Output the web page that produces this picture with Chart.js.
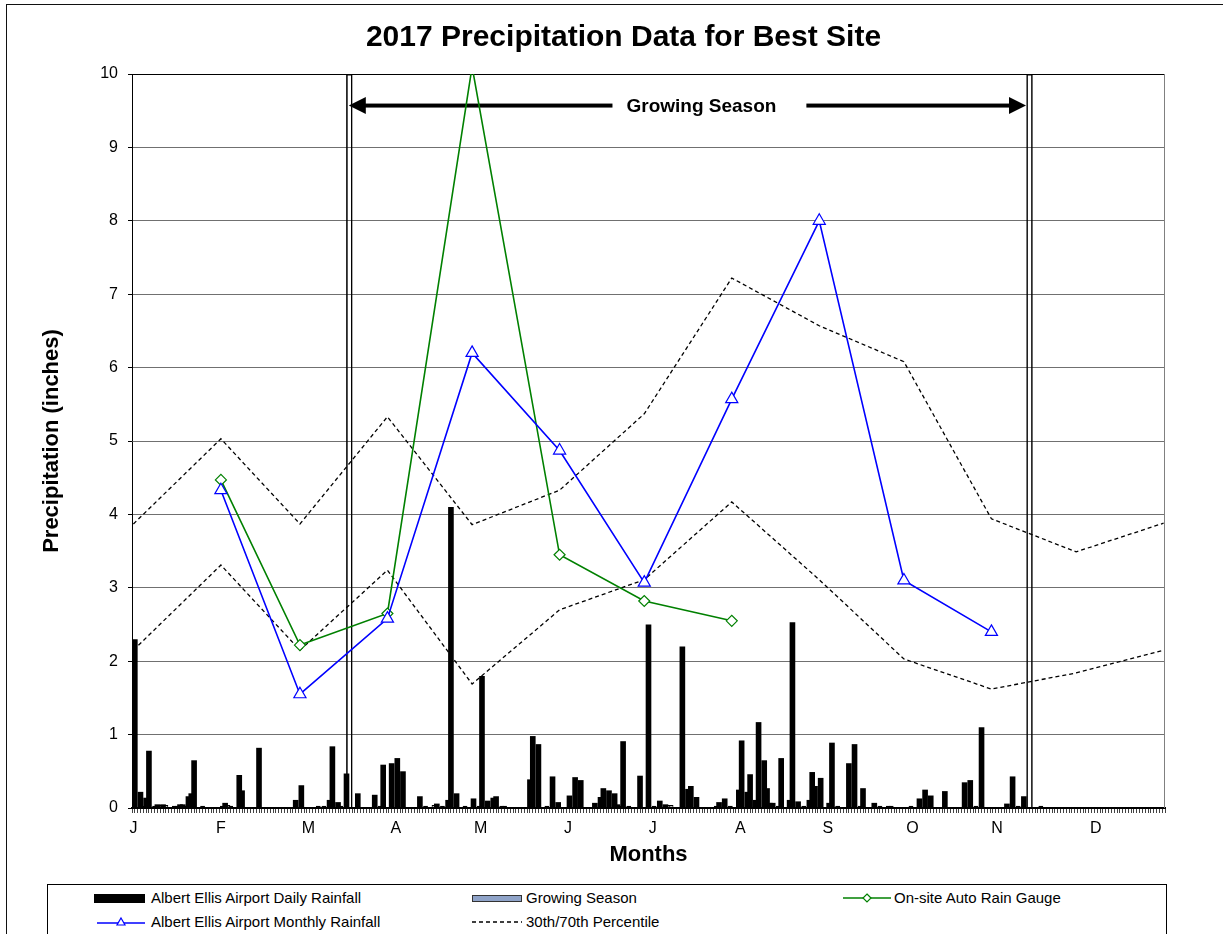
<!DOCTYPE html>
<html>
<head>
<meta charset="utf-8">
<title>2017 Precipitation Data for Best Site</title>
<script src="https://cdn.jsdelivr.net/npm/chart.js@4.4.1/dist/chart.umd.min.js"></script>
<style>
  html, body { margin: 0; padding: 0; background: #fff; overflow: hidden; }
  #wrap { position: relative; width: 1223px; height: 934px; overflow: hidden; }
  #frame { position: absolute; left: 6px; top: 4px; width: 1400px; height: 1100px; border: 1px solid #111; }
  #chart { position: absolute; left: 0; top: 0; }
  #legend {
    position: absolute; left: 47px; top: 884px; width: 1118px; height: 80px;
    border: 1px solid #000; background: #fff;
    font: 15px "Liberation Sans", Arial, sans-serif; color: #000;
  }
  .item { position: absolute; height: 16px; line-height: 16px; white-space: nowrap; }
  .item svg, .item .sw { position: absolute; top: 0; }
  .item span { position: absolute; top: 0; }
</style>
</head>
<body>
<div id="wrap">
  <div id="frame"></div>
  <canvas id="chart" width="1223" height="934"></canvas>
  <div id="legend">
    <div class="item" style="left:46px; top:5px;">
      <div class="sw" style="left:0; top:4px; width:51px; height:9px; background:#000;"></div>
      <span style="left:57px;">Albert Ellis Airport Daily Rainfall</span>
    </div>
    <div class="item" style="left:424px; top:5px;">
      <div class="sw" style="left:0; top:5px; width:48px; height:5px; background:#8fa3c8; border:1px solid #333;"></div>
      <span style="left:54px;">Growing Season</span>
    </div>
    <div class="item" style="left:795px; top:5px;">
      <svg width="48" height="16" style="left:0;">
        <line x1="0" y1="8" x2="48" y2="8" stroke="#008000" stroke-width="1.5"/>
        <polygon points="24,4 28,8 24,12 20,8" fill="#fff" stroke="#008000" stroke-width="1.2"/>
      </svg>
      <span style="left:51px;">On-site Auto Rain Gauge</span>
    </div>
    <div class="item" style="left:49px; top:29px;">
      <svg width="48" height="16" style="left:0;">
        <line x1="0" y1="9" x2="48" y2="9" stroke="#0000ff" stroke-width="1.5"/>
        <polygon points="24,4 28,11 20,11" fill="#fff" stroke="#0000ff" stroke-width="1.2"/>
      </svg>
      <span style="left:54px;">Albert Ellis Airport Monthly Rainfall</span>
    </div>
    <div class="item" style="left:424px; top:29px;">
      <svg width="50" height="16" style="left:0;">
        <line x1="0" y1="8" x2="50" y2="8" stroke="#000" stroke-width="1.3" stroke-dasharray="4,3"/>
      </svg>
      <span style="left:54px;">30th/70th Percentile</span>
    </div>
  </div>
</div>
<script>
// Daily rainfall at the airport: [day of year (0 = Jan 1), inches]; days not listed had no rain
const dailyRain = [
  [0, 2.30], [2, 0.22], [3, 0.03], [4, 0.14], [5, 0.78], [7, 0.03], [8, 0.05], [9, 0.04], [10, 0.05],
  [11, 0.04], [14, 0.03], [15, 0.03], [16, 0.05], [17, 0.05], [18, 0.03], [19, 0.16], [20, 0.20],
  [21, 0.65], [24, 0.03],
  [31, 0.03], [32, 0.07], [33, 0.04], [34, 0.03], [37, 0.45], [38, 0.24], [44, 0.82], [57, 0.11],
  [59, 0.31], [65, 0.03], [67, 0.03], [69, 0.11], [70, 0.84], [72, 0.08], [73, 0.03], [75, 0.47],
  [79, 0.20], [85, 0.18], [87, 0.03], [88, 0.59],
  [91, 0.61], [93, 0.68], [95, 0.50], [101, 0.16], [103, 0.03], [106, 0.04], [107, 0.06], [109, 0.03],
  [111, 0.11], [112, 4.10], [114, 0.20], [117, 0.03],
  [120, 0.13], [122, 0.03], [123, 1.80], [125, 0.10], [127, 0.14], [128, 0.16], [130, 0.03], [131, 0.03],
  [140, 0.39], [141, 0.98], [143, 0.87], [146, 0.03], [148, 0.43], [150, 0.08],
  [154, 0.17], [156, 0.42], [158, 0.38], [163, 0.07], [165, 0.15], [166, 0.27], [168, 0.24], [170, 0.20],
  [171, 0.05], [172, 0.03], [173, 0.91], [175, 0.03], [179, 0.44],
  [182, 2.50], [184, 0.03], [186, 0.10], [188, 0.05], [189, 0.04], [190, 0.04], [194, 2.20], [196, 0.26],
  [197, 0.30], [199, 0.15], [206, 0.03], [207, 0.08], [209, 0.13], [211, 0.03],
  [214, 0.25], [215, 0.92], [217, 0.22], [218, 0.46], [220, 0.11], [221, 1.17], [223, 0.65], [224, 0.27],
  [225, 0.07], [226, 0.07], [228, 0.03], [229, 0.68], [232, 0.11], [233, 2.53], [235, 0.09], [237, 0.03],
  [239, 0.11], [240, 0.49], [241, 0.30],
  [243, 0.41], [246, 0.07], [247, 0.89], [249, 0.03], [253, 0.61], [255, 0.87], [257, 0.03], [258, 0.27],
  [262, 0.07], [264, 0.03], [267, 0.03], [268, 0.03],
  [275, 0.03], [278, 0.13], [280, 0.25], [282, 0.17], [287, 0.23], [294, 0.35], [296, 0.38], [298, 0.03],
  [300, 1.10],
  [309, 0.06], [311, 0.43], [313, 0.03], [315, 0.16], [321, 0.03]
];

// first day of each month (plus year end), used by the monthly series
const monthStartDays = [0, 31, 59, 90, 120, 151, 181, 212, 243, 273, 304, 334, 365];
const percentile70 = [3.87, 5.03, 3.87, 5.33, 3.86, 4.33, 5.37, 7.22, 6.57, 6.08, 3.94, 3.49, 3.88];
const percentile30 = [2.15, 3.31, 2.15, 3.24, 1.69, 2.70, 3.11, 4.17, 3.11, 2.03, 1.62, 1.84, 2.15];

const monthlyRainDays = [31, 59, 90, 120, 151, 181, 212, 243, 273, 304];
const monthlyRain = [4.33, 1.55, 2.58, 6.20, 4.87, 3.07, 5.57, 8.00, 3.10, 2.40];

const gaugeDays = [31, 59, 90, 120, 151, 181, 212];
const gaugeRain = [4.47, 2.22, 2.65, 10.10, 3.45, 2.82, 2.55];

// axis labels
const monthLabels = ['J', 'F', 'M', 'A', 'M', 'J', 'J', 'A', 'S', 'O', 'N', 'D'];
const monthLabelDays = [0, 31, 62, 93, 123, 154, 184, 215, 246, 276, 306, 341];

// growing season markers (day centre) and the arrow between them
const growingSeasonDays = [76.5, 317.5];
const growingSeasonTop = 10;
const arrowLevel = 9.57;

const FONT = "'Liberation Sans', Arial, sans-serif";
const TRACE = 0.05;

const toPoints = (days, vals) => days.map((d, i) => ({ x: d, y: vals[i] }));
const rainBars = dailyRain.filter(r => r[1] >= TRACE).map(r => ({ x: r[0] + 0.5, y: r[1] }));
const traceBars = dailyRain.filter(r => r[1] < TRACE).map(r => ({ x: r[0] + 0.5, y: r[1] }));

// title drawn at a fixed spot above the plot
const chartTitle = {
  id: 'chartTitle',
  afterDraw(chart, args, opts) {
    const c = chart.ctx;
    c.save();
    c.font = 'bold 30px ' + FONT;
    c.fillStyle = '#000';
    c.textAlign = 'center';
    c.textBaseline = 'middle';
    c.fillText(opts.text, chart.width / 2 + 12, 38);
    c.restore();
  }
};

// right edge of the plot and the double arrow spanning the growing season
const seasonArrow = {
  id: 'seasonArrow',
  beforeDatasetsDraw(chart, args, opts) {
    const { ctx: c, chartArea: a, scales: { x, y } } = chart;
    c.save();
    c.strokeStyle = '#808080';
    c.lineWidth = 1;
    c.beginPath();
    c.moveTo(a.right - 0.5, a.top);
    c.lineTo(a.right - 0.5, a.bottom);
    c.stroke();

    const x0 = x.getPixelForValue(growingSeasonDays[0]) - 0.5;
    const x1 = x.getPixelForValue(growingSeasonDays[1]) - 3.5;
    const yy = y.getPixelForValue(arrowLevel);
    const head = 17, half = 8.5;
    c.font = 'bold 19px ' + FONT;
    const tw = c.measureText(opts.text).width;
    const tx = (x0 + x1) / 2 + 14;
    const g0 = tx - tw / 2 - 14, g1 = tx + tw / 2 + 30;

    c.fillStyle = '#000';
    c.fillRect(x0 + head - 1, yy - 2, g0 - x0 - head + 1, 4);
    c.fillRect(g1, yy - 2, x1 - head + 1 - g1, 4);
    c.beginPath();
    c.moveTo(x0, yy); c.lineTo(x0 + head, yy - half); c.lineTo(x0 + head, yy + half); c.closePath();
    c.fill();
    c.beginPath();
    c.moveTo(x1, yy); c.lineTo(x1 - head, yy - half); c.lineTo(x1 - head, yy + half); c.closePath();
    c.fill();

    c.textAlign = 'center';
    c.textBaseline = 'middle';
    c.fillText(opts.text, tx, yy + 1);
    c.restore();
  }
};

new Chart(document.getElementById('chart'), {
  data: {
    datasets: [
      {
        type: 'line',
        label: 'Albert Ellis Airport Monthly Rainfall',
        data: toPoints(monthlyRainDays, monthlyRain),
        borderColor: '#0000ff',
        borderWidth: 1.6,
        pointStyle: 'triangle',
        pointRadius: 7,
        pointBackgroundColor: '#fff',
        pointBorderColor: '#0000ff',
        pointBorderWidth: 1.2,
        order: 0
      },
      {
        type: 'line',
        label: 'On-site Auto Rain Gauge',
        data: toPoints(gaugeDays, gaugeRain),
        borderColor: '#008000',
        borderWidth: 1.6,
        pointStyle: 'rectRot',
        pointRadius: 5.5,
        pointBackgroundColor: '#fff',
        pointBorderColor: '#008000',
        pointBorderWidth: 1.2,
        clip: 0,
        order: 0
      },
      {
        type: 'line',
        label: '70th Percentile',
        data: toPoints(monthStartDays, percentile70),
        borderColor: '#000',
        borderWidth: 1.3,
        borderDash: [4, 3],
        pointRadius: 0,
        order: 1
      },
      {
        type: 'line',
        label: '30th Percentile',
        data: toPoints(monthStartDays, percentile30),
        borderColor: '#000',
        borderWidth: 1.3,
        borderDash: [4, 3],
        pointRadius: 0,
        order: 1
      },
      {
        type: 'bar',
        label: 'Albert Ellis Airport Daily Rainfall',
        data: rainBars,
        backgroundColor: '#000',
        borderWidth: 0,
        barPercentage: 2,
        categoryPercentage: 1,
        grouped: false,
        order: 2
      },
      {
        type: 'bar',
        label: 'Albert Ellis Airport Daily Rainfall (trace)',
        data: traceBars,
        backgroundColor: '#fff',
        borderColor: '#000',
        borderWidth: 1,
        borderSkipped: false,
        barPercentage: 1.7,
        categoryPercentage: 1,
        grouped: false,
        order: 3
      },
      {
        type: 'bar',
        label: 'Growing Season',
        data: growingSeasonDays.map(d => ({ x: d, y: growingSeasonTop })),
        backgroundColor: 'rgba(0,0,0,0)',
        borderColor: '#000',
        borderWidth: 1.6,
        borderSkipped: 'start',
        barPercentage: 2.3,
        categoryPercentage: 1,
        grouped: false,
        order: 4
      }
    ]
  },
  options: {
    responsive: false,
    animation: false,
    layout: { padding: { top: 74, right: 58, bottom: 0, left: 0 } },
    plugins: {
      legend: { display: false },
      tooltip: { enabled: false },
      chartTitle: { text: '2017 Precipitation Data for Best Site' },
      seasonArrow: { text: 'Growing Season' }
    },
    scales: {
      x: {
        type: 'linear',
        min: 0,
        max: 365,
        afterFit: s => { s.height = 126; },
        afterBuildTicks: s => { s.ticks = Array.from({ length: 366 }, (_, d) => ({ value: d })); },
        ticks: {
          autoSkip: false,
          maxRotation: 0,
          minRotation: 0,
          padding: 6,
          color: '#000',
          font: { family: FONT, size: 16 },
          callback: v => {
            const i = monthLabelDays.indexOf(v);
            return i >= 0 ? monthLabels[i] : '';
          }
        },
        grid: { drawOnChartArea: false, drawTicks: true, tickLength: 5, tickColor: '#444' },
        border: { color: '#000', width: 2 },
        title: {
          display: true,
          text: 'Months',
          color: '#000',
          font: { family: FONT, size: 22, weight: 'bold' },
          padding: { top: 0, bottom: 66 }
        }
      },
      y: {
        min: 0,
        max: 10,
        afterFit: s => { s.width = 132; },
        ticks: {
          stepSize: 1,
          padding: 10,
          color: '#000',
          font: { family: FONT, size: 16 }
        },
        grid: {
          color: c => (c.tick && c.tick.value === 10 ? '#000' : '#707070'),
          tickColor: '#000',
          tickLength: 4,
          lineWidth: 1
        },
        border: { color: '#000', width: 1 },
        title: {
          display: true,
          text: 'Precipitation (inches)',
          color: '#000',
          font: { family: FONT, size: 22, weight: 'bold' },
          padding: { top: 39, bottom: 0 }
        }
      }
    }
  },
  plugins: [chartTitle, seasonArrow]
});
</script>
</body>
</html>
